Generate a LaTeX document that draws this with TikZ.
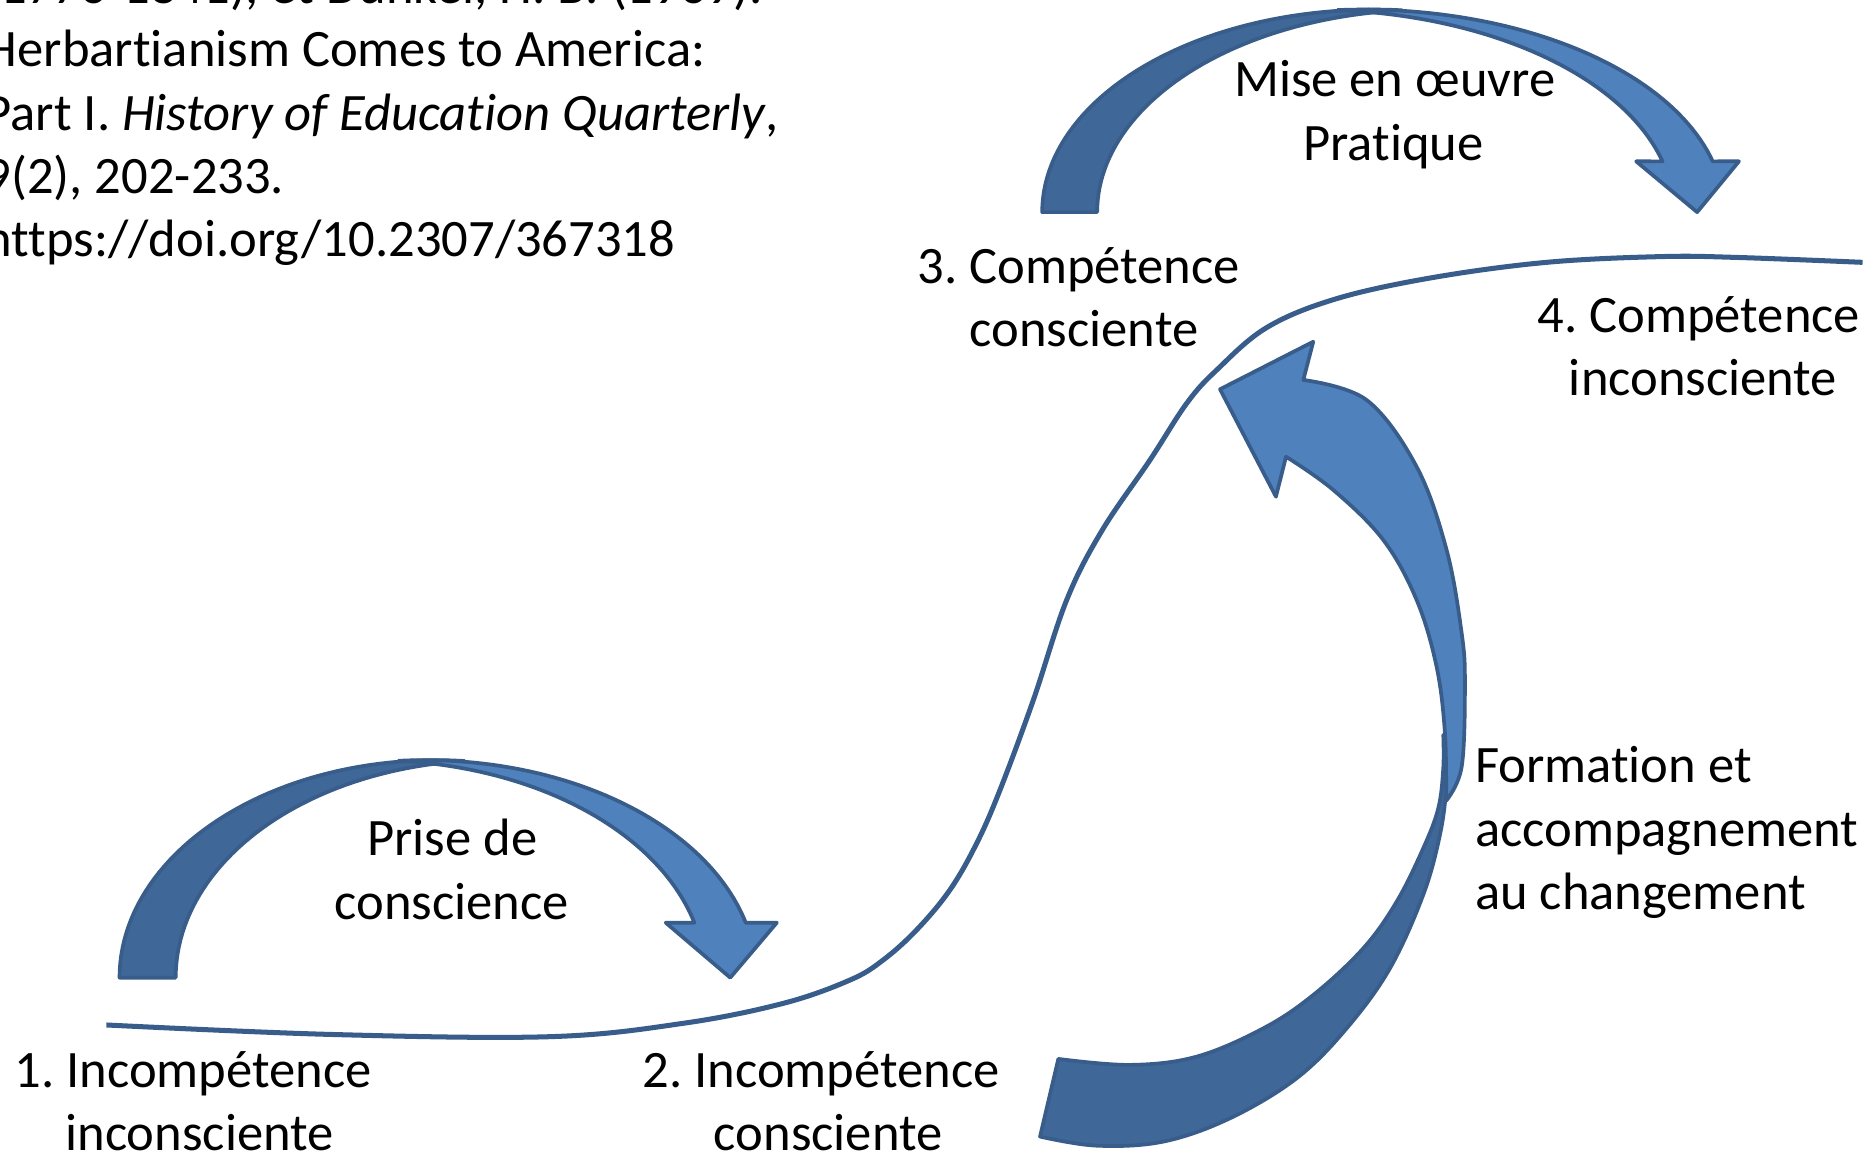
\documentclass[tikz,border=0pt]{standalone}
\usepackage{fontspec}
\setmainfont{Carlito}[Ligatures=CommonOff]
\frenchspacing
\definecolor{arrowlight}{HTML}{4F81BD}
\definecolor{arrowdark}{HTML}{3F6797}
\definecolor{arrowline}{HTML}{385D8A}
\tikzset{
  darkband/.style={fill=arrowdark, draw=arrowline, line width=3.1pt, line join=round},
  lightband/.style={fill=arrowlight, draw=arrowline, line width=3.1pt, line join=round},
  sline/.style={draw=arrowline, line width=4.2pt},
  lbl/.style={font=\fontsize{44}{53}\selectfont\frenchspacing, inner sep=0pt, anchor=base},
  cite/.style={lbl, anchor=base west},
}
\begin{document}
\begin{tikzpicture}[x=1pt,y=-1pt]
\useasboundingbox (0,0) rectangle (1568,966);
\fill[white] (0,0) rectangle (1568,966);

% citation (cut at the left and top edges)
\node[cite] (cit1) at (-13,3) {(1776-1841), et Dunkel, H. B. (1969).};
\node[cite] (cit2) at (-13,56) {Herbartianism Comes to America:};
\node[cite] (cit3) at (-13,109) {Part I. \textit{History of Education Quarterly},};
\node[cite] (cit4) at (-13,162) {9(2), 202-233.};
\node[cite] (cit5) at (-13,215) {https://doi.org/10.2307/367318};

% S-shaped learning curve
\draw[sline] plot[smooth, tension=0.6] coordinates {
 (89,857.6) (276,865.5) (460,867.4) (571.7,856.2) (655.4,839.5) (711.2,820)
 (739,803.2) (767,778) (794.8,744.6) (817.2,705.6) (836.7,661) (864.6,585.7)
 (892.5,502) (922,444) (962.2,384.9) (992.9,337.5)
 (1018,309.6) (1060,274) (1118,250) (1198.4,232.3) (1294,219.5)
 (1389.6,214.7) (1453.3,215.4) (1558.4,219.5)};

% arrow 1 : Prise de conscience
\filldraw[darkband] plot[domain=180:84.9, samples=50] ({365+265*cos(\x)},{818-182*sin(\x)})
  -- plot[domain=95.1:180, samples=50] ({412+265*cos(\x)},{818-182*sin(\x)}) -- cycle;
\filldraw[lightband] plot[domain=94.4:14.64, samples=50] ({355+278*cos(\x)},{818-182*sin(\x)})
  -- (650,772) -- (611,818) -- (557,772)
  -- plot[domain=14.64:85.6, samples=50] ({312+278*cos(\x)},{818-182*sin(\x)}) -- cycle;

% arrow 2 : Mise en oeuvre
\filldraw[darkband] plot[domain=180:85.25, samples=50] ({1150+278*cos(\x)},{177.5-169.5*sin(\x)})
  -- plot[domain=94.75:180, samples=50] ({1196+278*cos(\x)},{177.5-169.5*sin(\x)}) -- cycle;
\filldraw[lightband] plot[domain=93.98:14.52, samples=50] ({1140+302.7*cos(\x)},{177.5-169.5*sin(\x)})
  -- (1455,135) -- (1420,177.5) -- (1369,135)
  -- plot[domain=14.52:86.02, samples=50] ({1098+302.7*cos(\x)},{177.5-169.5*sin(\x)}) -- cycle;

% arrow 3 : Formation et accompagnement
\filldraw[darkband] (885.5,886) -- (870.2,951)
  -- plot[smooth, tension=0.6] coordinates {(870.2,951) (917.6,958.6) (973.3,955.2) (1029.1,935.7) (1084.9,902.2) (1126.8,860.4) (1163,810.2) (1190.8,748.8) (1204.8,698.6) (1210.4,656.8) (1211.8,615)}
  -- plot[smooth, tension=0.6] coordinates {(1207.6,615) (1207.6,642.8) (1203.4,676.3) (1190.8,709.8) (1168.6,754.4) (1140.7,793.4) (1098.8,832.5) (1057,860.4) (1001.2,884.1) (945.5,891) (885.5,886)}
  -- cycle;
\filldraw[lightband] plot[smooth, tension=0.6] coordinates {(1210,670) (1223,641.5) (1225.7,571.7) (1223,529.9) (1210.4,460.2) (1185.3,390.5) (1143.5,334.7) (1090.5,317.9)}
  -- (1098.8,285.9) -- (1020.8,325.7) -- (1067.6,415.6) -- (1076,382.1)
  -- plot[smooth, tension=0.6] coordinates {(1076,382.1) (1115.6,410) (1157.4,451.8) (1185.3,502) (1202,557.8) (1209,613.5) (1210,670)}
  -- cycle;

% labels
\node[lbl] (mise1) at (1167,81) {Mise en œuvre};
\node[lbl] (mise2) at (1166,134) {Pratique};
\node[lbl] (c3a) at (902.5,237) {3. Compétence};
\node[lbl] (c3b) at (907,290) {consciente};
\node[lbl] (c4a) at (1421.5,278) {4. Compétence};
\node[lbl] (c4b) at (1425,331) {inconsciente};
\node[lbl, anchor=base west] (fa) at (1234,655) {Formation et};
\node[lbl, anchor=base west] (fb) at (1234,708) {accompagnement};
\node[lbl, anchor=base west] (fc) at (1234,761) {au changement};
\node[lbl] (pa) at (378.5,716) {Prise de};
\node[lbl] (pb) at (378,769) {conscience};
\node[lbl] (i1a) at (161.5,910) {1. Incompétence};
\node[lbl] (i1b) at (167,963) {inconsciente};
\node[lbl] (i2a) at (687,910) {2. Incompétence};
\node[lbl] (i2b) at (693,963) {consciente};
\end{tikzpicture}
\end{document}
